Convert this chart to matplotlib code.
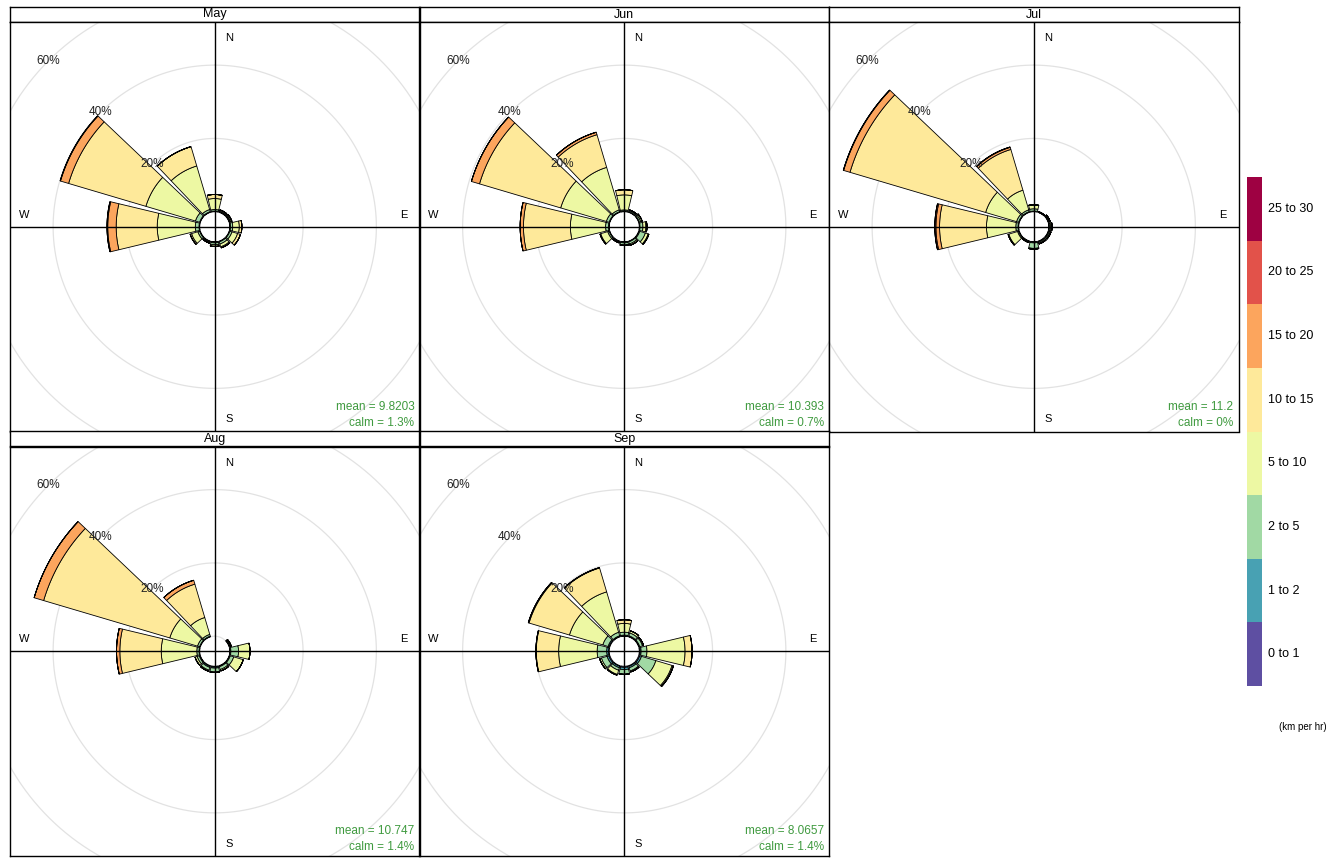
import numpy as np
import matplotlib.pyplot as plt
from matplotlib.patches import Polygon, Rectangle

plt.rcParams['font.family'] = ['Liberation Sans', 'DejaVu Sans']

directions = [0, 30, 60, 90, 120, 150, 180, 210, 240, 270, 300, 330]
speed_bins = ["0 to 1", "1 to 2", "2 to 5", "5 to 10", "10 to 15", "15 to 20", "20 to 25", "25 to 30"]
bin_colours = ["#5E4FA2", "#48A1B3", "#A1D9A4", "#EDF8A3", "#FEE99A", "#FCA55D", "#E2524A", "#9E0142"]

months = ["May", "Jun", "Jul", "Aug", "Sep"]
means = ["9.8203", "10.393", "11.2", "10.747", "8.0657"]
calms = ["1.3%", "0.7%", "0%", "1.4%", "1.4%"]

# frequency (%) - rows are speed bins, columns are directions
may = [
    [0.1, 0.1, 0.1, 0.1, 0.1, 0.1, 0.1, 0.1, 0.1, 0.1, 0.1, 0.1],
    [0.1, 0.1, 0.1, 0.1, 0.1, 0.1, 0.2, 0.1, 0.1, 0.1, 0.1, 0.1],
    [0.4, 0.2, 0.2, 0.6, 0.6, 0.6, 0.5, 0.2, 0.5, 1.0, 1.2, 0.6],
    [3.0, 0.3, 0.3, 1.8, 1.6, 0.8, 0.4, 0.2, 1.8, 10.4, 14.1, 12.4],
    [1.1, 0.0, 0.1, 0.7, 0.8, 0.3, 0.1, 0.0, 0.4, 11.2, 22.0, 5.5],
    [0.0, 0.0, 0.0, 0.0, 0.0, 0.0, 0.0, 0.0, 0.0, 2.3, 2.3, 0.0],
    [0.0, 0.0, 0.0, 0.0, 0.0, 0.0, 0.0, 0.0, 0.0, 0.2, 0.1, 0.0],
    [0.0, 0.0, 0.0, 0.0, 0.0, 0.0, 0.0, 0.0, 0.0, 0.0, 0.0, 0.0],
]
jun = [
    [0.1, 0.1, 0.1, 0.1, 0.1, 0.1, 0.1, 0.1, 0.1, 0.1, 0.1, 0.1],
    [0.1, 0.1, 0.1, 0.1, 0.2, 0.1, 0.2, 0.1, 0.1, 0.1, 0.1, 0.1],
    [0.3, 0.3, 0.4, 0.8, 1.6, 0.6, 0.5, 0.2, 0.4, 0.8, 0.8, 0.5],
    [4.1, 0.2, 0.4, 0.8, 0.8, 0.4, 0.2, 0.1, 2.0, 9.6, 13.0, 12.1],
    [1.4, 0.0, 0.0, 0.3, 0.2, 0.0, 0.0, 0.0, 0.2, 12.8, 23.1, 9.3],
    [0.0, 0.0, 0.0, 0.0, 0.0, 0.0, 0.0, 0.0, 0.0, 0.9, 2.3, 0.7],
    [0.0, 0.0, 0.0, 0.0, 0.0, 0.0, 0.0, 0.0, 0.0, 0.0, 0.0, 0.0],
    [0.0, 0.0, 0.0, 0.0, 0.0, 0.0, 0.0, 0.0, 0.0, 0.0, 0.0, 0.0],
]
jul = [
    [0.1, 0.0, 0.1, 0.1, 0.1, 0.1, 0.1, 0.0, 0.1, 0.1, 0.1, 0.1],
    [0.1, 0.1, 0.1, 0.1, 0.2, 0.2, 0.2, 0.1, 0.1, 0.1, 0.1, 0.1],
    [0.6, 0.1, 0.2, 0.3, 0.3, 0.3, 1.5, 0.2, 0.3, 0.6, 0.6, 0.5],
    [1.0, 0.0, 0.2, 0.4, 0.2, 0.2, 0.2, 0.1, 2.5, 8.0, 8.8, 5.6],
    [0.1, 0.0, 0.0, 0.0, 0.0, 0.0, 0.0, 0.0, 0.2, 12.8, 38.6, 11.6],
    [0.0, 0.0, 0.0, 0.0, 0.0, 0.0, 0.0, 0.0, 0.0, 1.0, 1.8, 0.6],
    [0.0, 0.0, 0.0, 0.0, 0.0, 0.0, 0.0, 0.0, 0.0, 0.3, 0.1, 0.1],
    [0.0, 0.0, 0.0, 0.0, 0.0, 0.0, 0.0, 0.0, 0.0, 0.0, 0.0, 0.0],
]
aug = [
    [0.0, 0.0, 0.1, 0.1, 0.1, 0.1, 0.2, 0.2, 0.1, 0.1, 0.1, 0.1],
    [0.0, 0.0, 0.1, 0.2, 0.2, 0.2, 0.3, 0.3, 0.2, 0.1, 0.1, 0.1],
    [0.0, 0.0, 0.2, 2.1, 1.0, 0.8, 1.0, 0.8, 0.6, 0.6, 0.6, 0.5],
    [0.0, 0.0, 0.2, 3.1, 2.7, 0.4, 0.2, 0.3, 0.6, 9.7, 7.9, 4.8],
    [0.0, 0.0, 0.0, 0.0, 0.0, 0.0, 0.0, 0.0, 0.0, 11.3, 35.9, 9.5],
    [0.0, 0.0, 0.0, 0.0, 0.0, 0.0, 0.0, 0.0, 0.0, 0.9, 2.7, 1.1],
    [0.0, 0.0, 0.0, 0.0, 0.0, 0.0, 0.0, 0.0, 0.0, 0.0, 0.0, 0.0],
    [0.0, 0.0, 0.0, 0.0, 0.0, 0.0, 0.0, 0.0, 0.0, 0.0, 0.0, 0.0],
]
sep = [
    [0.1, 0.1, 0.1, 0.2, 0.3, 0.2, 0.3, 0.2, 0.3, 0.2, 0.2, 0.1],
    [0.2, 0.2, 0.2, 0.3, 0.5, 0.4, 0.6, 0.4, 0.5, 0.5, 0.3, 0.2],
    [0.8, 0.8, 0.8, 1.6, 4.1, 0.9, 1.3, 0.7, 1.6, 2.6, 1.5, 1.0],
    [2.4, 0.6, 0.3, 10.4, 4.6, 0.3, 0.0, 1.2, 0.5, 10.5, 9.5, 11.5],
    [1.0, 0.0, 0.0, 1.9, 0.3, 0.0, 0.0, 0.2, 0.0, 6.1, 11.5, 6.8],
    [0.0, 0.0, 0.0, 0.0, 0.1, 0.0, 0.0, 0.0, 0.0, 0.1, 0.2, 0.1],
    [0.0, 0.0, 0.0, 0.0, 0.0, 0.0, 0.0, 0.0, 0.0, 0.0, 0.0, 0.0],
    [0.0, 0.0, 0.0, 0.0, 0.0, 0.0, 0.0, 0.0, 0.0, 0.0, 0.0, 0.0],
]
month_data = [may, jun, jul, aug, sep]

W, H = 1331, 859
off = 4.1          # centre hole (in % units)
px_per_unit = 3.665
gap = 1.5          # degrees each side of a sector
green = '#3F9A3F'

col_x = [10, 419.5, 829]
row_top = [7, 431.5]
pw, ph, strip_h = 409.5, 409.5, 15
lim = (ph / 2) / px_per_unit


def fig_rect(x, y, w, h):
    return [x / W, 1 - (y + h) / H, w / W, h / H]


def draw_panel(ax, data, mean, calm):
    ax.set_xlim(-lim, lim)
    ax.set_ylim(-lim, lim)
    ax.set_xticks([])
    ax.set_yticks([])
    for s in ax.spines.values():
        s.set_linewidth(1)
        s.set_color('black')

    t = np.linspace(0, 2 * np.pi, 400)
    for r in [0, 20, 40, 60]:
        ax.plot((off + r) * np.sin(t), (off + r) * np.cos(t), color='#E2E2E2', lw=0.9, zorder=1)

    vals = np.array(data)
    cum = np.vstack([np.zeros(len(directions)), np.cumsum(vals, axis=0)])
    for j, d in enumerate(directions):
        if cum[-1, j] <= 0:
            continue
        th = np.radians(np.linspace(d - 15 + gap, d + 15 - gap, 30))
        for i in range(len(speed_bins)):
            r1 = off + cum[i, j]
            r2 = off + cum[i + 1, j]
            xs = np.concatenate([r1 * np.sin(th), r2 * np.sin(th[::-1])])
            ys = np.concatenate([r1 * np.cos(th), r2 * np.cos(th[::-1])])
            ax.add_patch(Polygon(np.column_stack([xs, ys]), closed=True,
                                 facecolor=bin_colours[i], edgecolor='black', lw=0.6, zorder=2))

    ax.axhline(0, color='black', lw=1, zorder=4)
    ax.axvline(0, color='black', lw=1, zorder=4)

    for r in [20, 40, 60]:
        a = np.radians(315)
        ax.text((off + r) * np.sin(a), (off + r) * np.cos(a), f"{r}%", fontsize=8.5,
                ha='center', va='center', color='#222222', zorder=5)

    ax.text(3.8, 51.5, "N", fontsize=8, ha='center', va='center', zorder=5)
    ax.text(3.8, -52.5, "S", fontsize=8, ha='center', va='center', zorder=5)
    ax.text(51.5, 3.3, "E", fontsize=8, ha='center', va='center', zorder=5)
    ax.text(-52.0, 3.3, "W", fontsize=8, ha='center', va='center', zorder=5)

    ax.text(1 - 5 / pw, 24.5 / ph, f"mean = {mean}", transform=ax.transAxes,
            fontsize=8.5, ha='right', va='center', color=green, zorder=5)
    ax.text(1 - 5 / pw, 8.5 / ph, f"calm = {calm}", transform=ax.transAxes,
            fontsize=8.5, ha='right', va='center', color=green, zorder=5)


fig = plt.figure(figsize=(W / 100, H / 100), dpi=100)

for k, month in enumerate(months):
    row, col = divmod(k, 3)
    x0 = col_x[col]
    y0 = row_top[row]
    sax = fig.add_axes(fig_rect(x0, y0, pw, strip_h))
    sax.set_xticks([])
    sax.set_yticks([])
    for s in sax.spines.values():
        s.set_linewidth(1)
    sax.text(0.5, 0.5, month, fontsize=9, ha='center', va='center', transform=sax.transAxes)
    ax = fig.add_axes(fig_rect(x0, y0 + strip_h, pw, ph))
    draw_panel(ax, month_data[k], means[k], calms[k])

# colour key
kx, ktop, kw, kh = 1247, 177, 15, 509
kax = fig.add_axes(fig_rect(kx, ktop, kw, kh))
kax.set_xlim(0, 1)
kax.set_ylim(0, len(speed_bins))
kax.axis('off')
for i, c in enumerate(bin_colours):
    kax.add_patch(Rectangle((0, i), 1, 1, facecolor=c, edgecolor='none'))
    yc = ktop + kh - (i + 0.5) * kh / len(speed_bins)
    fig.text(1268 / W, 1 - yc / H, speed_bins[i], fontsize=9, ha='left', va='center')
fig.text(1327 / W, 1 - 727 / H, "(km per hr)", fontsize=7, ha='right', va='center')

fig.savefig("out.png", dpi=100, facecolor='white')
